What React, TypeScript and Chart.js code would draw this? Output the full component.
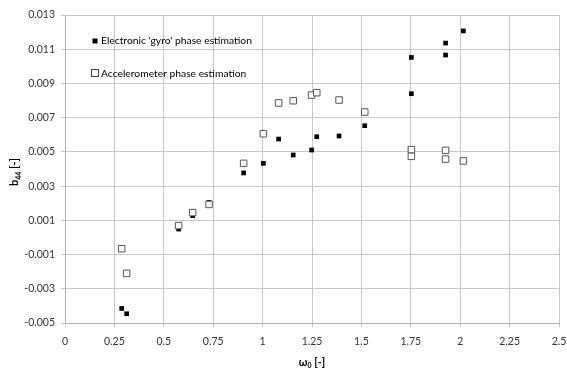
import React, { useEffect, useRef } from "react";
import { Chart, registerables } from "chart.js";

Chart.register(...registerables);

const gyroX = [0.287, 0.312, 0.575, 0.646, 0.729, 0.904, 1.004, 1.081, 1.155, 1.248, 1.274, 1.387, 1.517, 1.753, 1.753, 1.926, 1.926, 2.016];
const gyroY = [-0.00415, -0.00446, 0.00049, 0.00127, 0.00205, 0.00377, 0.00433, 0.00575, 0.00482, 0.00511, 0.00589, 0.00593, 0.00653, 0.01052, 0.0084, 0.01136, 0.01066, 0.01207];
const accX = [0.287, 0.312, 0.575, 0.646, 0.729, 0.904, 1.004, 1.081, 1.155, 1.248, 1.274, 1.387, 1.517, 1.753, 1.753, 1.926, 1.926, 2.016];
const accY = [-0.00066, -0.0021, 0.00069, 0.00145, 0.00193, 0.00433, 0.00606, 0.00786, 0.00799, 0.00832, 0.00846, 0.00803, 0.00733, 0.00513, 0.00474, 0.00509, 0.00458, 0.00447];
const seriesNames = ["Electronic 'gyro' phase estimation", "Accelerometer phase estimation"];
const xTicks = [0, 0.25, 0.5, 0.75, 1, 1.25, 1.5, 1.75, 2, 2.25, 2.5];
const yTicks = [-0.005, -0.003, -0.001, 0.001, 0.003, 0.005, 0.007, 0.009, 0.011, 0.013];

const FONT = "Lato, 'Open Sans', sans-serif";

const overlay = {
  id: "overlay",
  afterDraw(chart: any) {
    const ctx = chart.ctx;
    const area = chart.chartArea;
    ctx.save();
    // legend
    ctx.font = `10.3px ${FONT}`;
    ctx.textBaseline = "middle";
    ctx.fillStyle = "#000";
    const lx = 95;
    const ly1 = 41;
    const ly2 = 73;
    ctx.fillRect(lx - 2.5, ly1 - 2.5, 5, 5);
    ctx.fillText(seriesNames[0], lx + 6, ly1);
    ctx.strokeStyle = "#444";
    ctx.lineWidth = 1;
    ctx.strokeRect(lx - 3.5, ly2 - 3.5, 7, 7);
    ctx.fillText(seriesNames[1], lx + 6, ly2 + 0.5);
    // x title
    ctx.textBaseline = "alphabetic";
    const cx = (area.left + area.right) / 2;
    const ty = 366;
    ctx.font = `bold 11px ${FONT}`;
    const w1 = ctx.measureText("ω").width;
    ctx.font = `bold 7px ${FONT}`;
    const w2 = ctx.measureText("0").width;
    ctx.font = `bold 11px ${FONT}`;
    const w3 = ctx.measureText(" [-]").width;
    let sx = cx - (w1 + w2 + w3) / 2;
    ctx.fillText("ω", sx, ty);
    ctx.font = `bold 7px ${FONT}`;
    ctx.fillText("0", sx + w1, ty + 2);
    ctx.font = `bold 11px ${FONT}`;
    ctx.fillText(" [-]", sx + w1 + w2, ty);
    // y title
    ctx.translate(18, (area.top + area.bottom) / 2 + 3);
    ctx.rotate(-Math.PI / 2);
    ctx.font = `bold 11px ${FONT}`;
    const v1 = ctx.measureText("b").width;
    ctx.font = `bold 7px ${FONT}`;
    const v2 = ctx.measureText("44").width;
    ctx.font = `bold 11px ${FONT}`;
    const v3 = ctx.measureText(" [-]").width;
    sx = -(v1 + v2 + v3) / 2;
    ctx.fillText("b", sx, 0);
    ctx.font = `bold 7px ${FONT}`;
    ctx.fillText("44", sx + v1, 2.5);
    ctx.font = `bold 11px ${FONT}`;
    ctx.fillText(" [-]", sx + v1 + v2, 0);
    ctx.restore();
  },
};

export default function App() {
  const ref = useRef<HTMLCanvasElement>(null);
  useEffect(() => {
    document.body.style.margin = "0";
    const chart = new Chart(ref.current!, {
      type: "scatter",
      data: {
        datasets: [
          {
            label: seriesNames[1],
            data: accX.map((x, i) => ({ x, y: accY[i] })),
            pointStyle: "rect",
            pointRadius: 4.6,
            backgroundColor: "#ffffff",
            borderColor: "#555555",
            borderWidth: 1,
          },
          {
            label: seriesNames[0],
            data: gyroX.map((x, i) => ({ x, y: gyroY[i] })),
            pointStyle: "rect",
            pointRadius: 3.3,
            backgroundColor: "#000000",
            borderColor: "#000000",
            borderWidth: 0,
          },
        ],
      },
      options: {
        animation: false,
        responsive: false,
        devicePixelRatio: 1,
        layout: { padding: { left: 0, right: 8, top: 15, bottom: 0 } },
        plugins: { legend: { display: false }, tooltip: { enabled: false } },
        scales: {
          x: {
            type: "linear",
            min: 0,
            max: 2.5,
            afterBuildTicks: (s: any) => { s.ticks = xTicks.map((v) => ({ value: v })); },
            afterFit: (s: any) => { s.height = 46; s.paddingLeft = 0; s.paddingRight = 0; },
            grid: { color: "#c8c8c8", lineWidth: 1, tickLength: 4, drawTicks: true },
            border: { color: "#b0b0b0" },
            ticks: { color: "#333", font: { family: FONT, size: 10.5 }, padding: 8, maxRotation: 0, autoSkip: false, callback: (v: any) => String(v) },
          },
          y: {
            type: "linear",
            min: -0.005,
            max: 0.013,
            afterBuildTicks: (s: any) => { s.ticks = yTicks.map((v) => ({ value: v })); },
            afterFit: (s: any) => { s.width = 65; s.paddingTop = 0; s.paddingBottom = 0; },
            grid: { color: "#c8c8c8", lineWidth: 1, tickLength: 4 },
            border: { color: "#b0b0b0" },
            ticks: { color: "#333", font: { family: FONT, size: 10.5 }, padding: 6, autoSkip: false, callback: (v: any) => Number(v).toFixed(3) },
          },
        },
      },
      plugins: [overlay],
    });
    return () => chart.destroy();
  }, []);
  return (
    <div style={{ width: 567, height: 369 }}>
      <canvas ref={ref} width={567} height={369} style={{ display: "block" }} />
    </div>
  );
}
